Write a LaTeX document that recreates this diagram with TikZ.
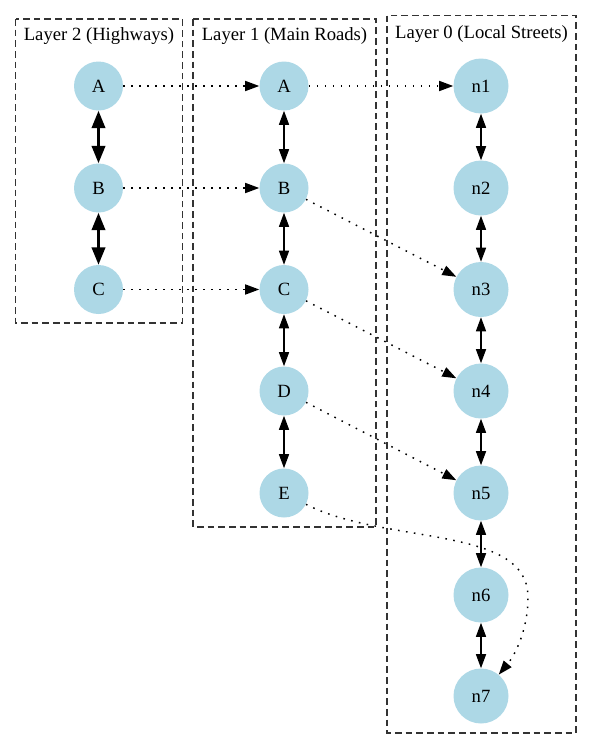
\documentclass[tikz,border=0pt]{standalone}
\usepackage{fontspec}
\setmainfont{Liberation Serif}
\usepackage{tikz}
\usetikzlibrary{arrows.meta}
\definecolor{lightblue}{RGB}{173,216,230}

\begin{document}
\begin{tikzpicture}[x=0.75pt,y=-0.75pt,font=\fontsize{14}{16}\selectfont,
  road/.style={circle,fill=lightblue,inner sep=0pt,minimum size=36.75pt},
  street/.style={circle,fill=lightblue,inner sep=0pt,minimum size=41.25pt},
  layerbox/.style={draw=black!80,line width=1pt,dash pattern=on 5pt off 3pt},
  link/.style={line width=1pt,{Triangle[length=10.5pt,width=7.5pt]}-{Triangle[length=10.5pt,width=7.5pt]}},
  highway/.style={line width=2pt,{Triangle[length=13pt,width=10pt]}-{Triangle[length=13pt,width=10pt]}},
  jump/.style={line width=1.1pt,dash pattern=on 1.2pt off 4.8pt,-{Triangle[length=10.5pt,width=7.5pt]}}]

\useasboundingbox (0,0) rectangle (592,750);

%% layer 2
\draw [layerbox] (15.5,19) rectangle (182.5,323);
\node (title2) at (99,36) {Layer 2 (Highways)};
\node [road] (h-A) at (98.5,86) {A};
\node [road] (h-B) at (98.5,188) {B};
\node [road] (h-C) at (98.5,289.5) {C};
\draw [highway] (h-A) -- (h-B);
\draw [highway] (h-B) -- (h-C);

%% layer 1
\draw [layerbox] (193,19) rectangle (376,527);
\node (title1) at (284.5,36) {Layer 1 (Main Roads)};
\node [road] (m-A) at (284,86) {A};
\node [road] (m-B) at (284,188) {B};
\node [road] (m-C) at (284,289.5) {C};
\node [road] (m-D) at (284,391) {D};
\node [road] (m-E) at (284,493) {E};
\draw [link] (m-A) -- (m-B);
\draw [link] (m-B) -- (m-C);
\draw [link] (m-C) -- (m-D);
\draw [link] (m-D) -- (m-E);

%% layer 0
\draw [layerbox] (387,15.5) rectangle (576,733);
\node (title0) at (481.5,34) {Layer 0 (Local Streets)};
\node [street] (n1) at (481,86) {n1};
\node [street] (n2) at (481,188) {n2};
\node [street] (n3) at (481,289.5) {n3};
\node [street] (n4) at (481,391) {n4};
\node [street] (n5) at (481,493) {n5};
\node [street] (n6) at (481,595) {n6};
\node [street] (n7) at (481,696) {n7};
\draw [link] (n1) -- (n2);
\draw [link] (n2) -- (n3);
\draw [link] (n3) -- (n4);
\draw [link] (n4) -- (n5);
\draw [link] (n5) -- (n6);
\draw [link] (n6) -- (n7);

%% between layers
\draw [jump] (h-A) -- (m-A);
\draw [jump] (h-B) -- (m-B);
\draw [jump] (h-C) -- (m-C);
\draw [jump] (m-A) -- (n1);
\draw [jump] (m-B) -- (n3);
\draw [jump] (m-C) -- (n4);
\draw [jump] (m-D) -- (n5);
\draw [jump] (m-E) .. controls (385,545) and (528,525) .. (528,597)
  .. controls (528,630) and (515,655) .. (n7);
\end{tikzpicture}
\end{document}
